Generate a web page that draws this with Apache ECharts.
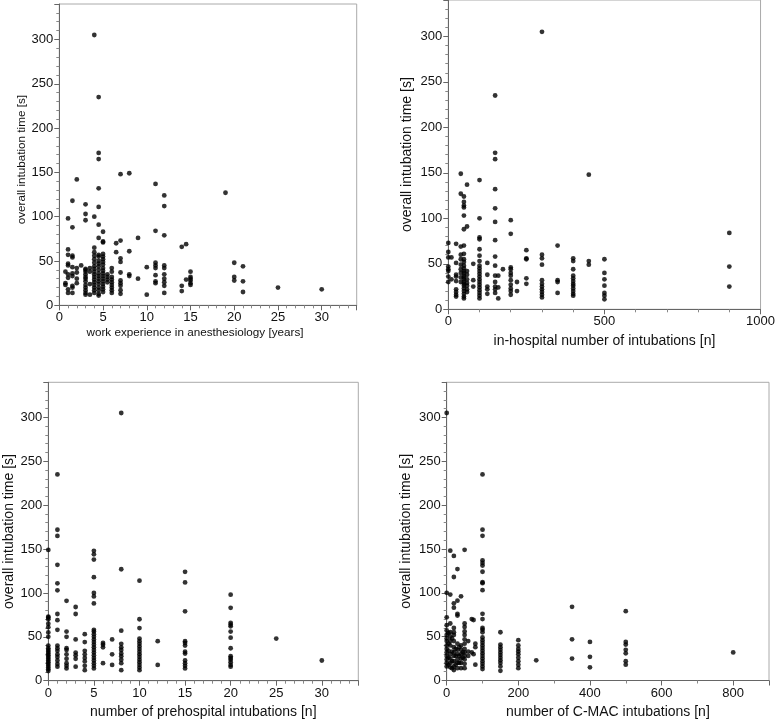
<!DOCTYPE html>
<html>
<head>
<meta charset="utf-8">
<script src="https://cdn.jsdelivr.net/npm/echarts@6/dist/echarts.min.js"></script>
<style>
html,body{margin:0;padding:0;background:#fff;}
#chart{width:778px;height:720px;}
</style>
</head>
<body>
<div id="chart"></div>
<script>
// Panel 1: work experience in anesthesiology [years]
var expLevels = [0.7, 1, 1.5, 2, 2.5, 3, 3.5, 4, 4.5, 5, 5.5, 6, 6.5, 7, 8, 9, 10, 11, 12, 14, 14.5, 15, 19, 20, 21, 25, 30];
var expTimes = [
  [38, 25, 23],
  [98, 63, 57, 47, 45, 35, 31, 18, 14],
  [118, 88, 56, 54, 43, 36, 33, 22, 20, 14],
  [142, 42, 37, 30, 25],
  [45],
  [114, 103, 96, 41, 40, 38, 35, 32, 30, 27, 23, 20, 17, 14, 12],
  [42, 38, 24, 12],
  [305, 100, 65, 60, 56, 52, 48, 44, 41, 38, 35, 32, 29, 26, 23, 20, 17, 14],
  [235, 172, 165, 132, 111, 91, 76, 57, 55, 50, 47, 44, 40, 36, 33, 30, 27, 24, 20, 17, 13, 11],
  [83, 72, 71, 58, 55, 52, 49, 46, 42, 39, 36, 33, 30, 27, 24, 21, 18, 15],
  [35, 32, 29, 26],
  [42, 38, 32, 29, 26, 23, 20, 17, 14],
  [70, 60],
  [148, 73, 53, 49, 37, 28, 25, 22, 17, 13],
  [149, 61, 35, 33],
  [76, 30],
  [43, 12],
  [137, 84, 48, 45, 42, 34, 27, 25],
  [124, 112, 79, 45, 42, 35, 30, 26, 22, 14],
  [66, 22, 16],
  [69, 29],
  [38, 32, 30, 28, 25, 23],
  [127],
  [48, 32, 28],
  [44, 27, 15],
  [20],
  [18]
];

// Panel 2: in-hospital number of intubations [n]
var hospLevels = [0, 10, 25, 40, 50, 60, 80, 100, 125, 150, 160, 175, 200, 220, 250, 300, 350, 400, 450, 500, 900];
var hospTimes = [
  [73, 63, 57, 47, 44, 42, 36, 30],
  [57, 33],
  [72, 51, 38, 36, 31, 22, 19, 16, 14],
  [149, 127, 69, 60, 55, 49, 44, 40, 35, 30],
  [124, 118, 114, 112, 103, 88, 70, 61, 55, 52, 48, 45, 42, 40, 37, 35, 33, 30, 28, 26, 23, 20, 17, 14, 12],
  [137, 91, 42, 38, 33, 29, 26, 22, 19],
  [50, 32, 25],
  [142, 100, 79, 77, 66, 59, 53, 48, 45, 42, 39, 36, 33, 30, 27, 24, 21, 18, 15, 12],
  [51, 38, 25, 22, 17],
  [235, 172, 165, 132, 111, 96, 76, 58, 48, 37, 30, 25, 22, 18],
  [37, 24, 12],
  [44],
  [98, 83, 46, 44, 40, 37, 32, 27, 23, 20, 16],
  [30, 20],
  [65, 56, 55, 34, 28],
  [305, 60, 56, 49, 32, 28, 25, 22, 19, 16, 13],
  [70, 32, 30, 18],
  [56, 53, 44, 37, 34, 31, 28, 26, 23, 20, 17, 15],
  [148, 53, 49],
  [55, 40, 33, 26, 18, 15, 11],
  [84, 47, 25]
];

// Panel 3: number of prehospital intubations [n]
var preLevels = [0, 1, 2, 3, 4, 5, 6, 7, 8, 10, 12, 15, 20, 25, 30];
var preTimes = [
  [149, 73, 72, 70, 65, 61, 55, 50, 40, 37, 35, 33, 31, 29, 27, 25, 23, 21, 19, 17, 15, 13, 11],
  [235, 172, 165, 132, 111, 103, 76, 69, 58, 40, 37, 34, 30, 27, 23, 19, 16],
  [91, 56, 50, 37, 35, 30, 25, 20, 17, 14],
  [84, 76, 47, 32, 29, 25, 16],
  [53, 44, 34, 30, 26, 22, 17, 12],
  [148, 144, 138, 118, 100, 96, 88, 58, 56, 53, 50, 47, 44, 41, 38, 35, 32, 29, 26, 23, 20, 17, 14],
  [43, 41, 38, 20],
  [47, 30, 18],
  [305, 127, 57, 42, 38, 35, 31, 28, 24, 20, 12],
  [114, 70, 60, 48, 45, 42, 39, 36, 33, 30, 27, 24, 21, 18, 15, 12],
  [45, 18],
  [124, 112, 79, 45, 43, 40, 33, 31, 23, 20, 17, 14],
  [98, 83, 66, 64, 62, 56, 49, 37, 28, 26, 24, 21, 18, 16],
  [48],
  [23]
];

// Panel 4: number of C-MAC intubations [n]
var cmacLevels = [0, 5, 10, 15, 20, 25, 30, 35, 40, 45, 50, 60, 70, 75, 80, 100, 150, 200, 250, 350, 400, 500, 800];
var cmacTimes = [
  [305, 100, 72, 63, 57, 52, 48, 45, 40, 36, 32, 28, 24, 20, 16],
  [54, 42, 34, 26, 18],
  [148, 98, 65, 55, 50, 45, 40, 30, 25, 20, 15],
  [48, 33, 22, 14],
  [142, 118, 88, 83, 60, 55, 52, 45, 38, 32, 28, 22, 16, 12],
  [36, 28, 18],
  [127, 91, 76, 74, 42, 35, 30, 24, 20, 14],
  [38, 28, 20],
  [96, 40, 35, 30, 25, 20, 14],
  [32, 26],
  [149, 65, 61, 56, 52, 47, 42, 36, 32, 28, 24, 19, 14],
  [45, 33, 28],
  [70, 32],
  [69, 30],
  [42, 38, 18],
  [235, 172, 165, 137, 134, 131, 124, 112, 111, 103, 76, 70, 60, 58, 55, 49, 46, 43, 40, 37, 34, 31, 28, 25, 22, 19, 16, 13],
  [55, 41, 38, 35, 32, 29, 26, 23, 20, 16, 11],
  [46, 40, 36, 33, 30, 26, 22, 18, 14],
  [23],
  [84, 47, 25],
  [44, 27, 15],
  [79, 44, 41, 35, 31, 22, 18],
  [32]
];

var xNames = [
  'work experience in anesthesiology [years]',
  'in-hospital number of intubations [n]',
  'number of prehospital intubations [n]',
  'number of C-MAC intubations [n]'
];
var yName = 'overall intubation time [s]';

function pairs(levels, times) {
  var out = [];
  levels.forEach(function (lv, i) {
    times[i].forEach(function (t) { out.push([lv, t]); });
  });
  return out;
}

var panelData = [
  pairs(expLevels, expTimes),
  pairs(hospLevels, hospTimes),
  pairs(preLevels, preTimes),
  pairs(cmacLevels, cmacTimes)
];

var FONT = 'Liberation Sans, Arial, Helvetica, sans-serif';

var grids = [
  { left: 59.3, top: 4, width: 297.4, height: 301.3 },
  { left: 448.3, top: 0, width: 315, height: 309.3 },
  { left: 48.3, top: 382.3, width: 310, height: 298.4 },
  { left: 446.7, top: 382.3, width: 322.3, height: 298.7 }
];
var xCfg = [
  { max: 34, interval: 5, minor: 5, gap: 21, nameSize: 11.7, namePad: [0, 26, 0, 0], showMax: false },
  { max: 1000, interval: 500, minor: 5, gap: 24.5, nameSize: 14, namePad: 0, showMax: true },
  { max: 34, interval: 5, minor: 5, gap: 24, nameSize: 14, namePad: 0, showMax: false },
  { max: 900, interval: 200, minor: 2, gap: 24.5, nameSize: 14, namePad: 0, showMax: false }
];
var yCfg = [
  { gap: 32, nameSize: 11.7, namePad: [0, 10, 0, 0] },
  { gap: 34, nameSize: 14, namePad: 0 },
  { gap: 32.5, nameSize: 14, namePad: 0 },
  { gap: 34, nameSize: 14, namePad: 0 }
];

var axisLineStyle = { color: '#666', width: 1 };
var option = {
  backgroundColor: '#fff',
  animation: false,
  grid: grids.map(function (g) {
    return Object.assign({ show: true, borderColor: '#aaa', borderWidth: 1, backgroundColor: '#fff' }, g);
  }),
  xAxis: xCfg.map(function (c, i) {
    return {
      type: 'value', gridIndex: i, min: 0, max: c.max, interval: c.interval,
      name: xNames[i], nameLocation: 'middle', nameGap: c.gap,
      nameTextStyle: { fontFamily: FONT, fontSize: c.nameSize, color: '#111', padding: c.namePad },
      axisLine: { show: true, onZero: false, lineStyle: axisLineStyle },
      axisTick: { show: true, inside: false, length: 5, lineStyle: { color: '#666' } },
      minorTick: { show: true, splitNumber: c.minor, length: 3, lineStyle: { color: '#888' } },
      splitLine: { show: false },
      axisLabel: {
        fontFamily: FONT, fontSize: 13, color: '#111', margin: 6, showMaxLabel: c.showMax,
        formatter: function (v) { return String(v); }
      }
    };
  }),
  yAxis: yCfg.map(function (c, i) {
    return {
      type: 'value', gridIndex: i, min: 0, max: 340, interval: 50,
      name: yName, nameLocation: 'middle', nameGap: c.gap, nameRotate: 90,
      nameTextStyle: { fontFamily: FONT, fontSize: c.nameSize, color: '#111', padding: c.namePad },
      axisLine: { show: true, onZero: false, lineStyle: axisLineStyle },
      axisTick: { show: true, inside: false, length: 5, lineStyle: { color: '#666' } },
      minorTick: { show: true, splitNumber: 5, length: 3, lineStyle: { color: '#888' } },
      splitLine: { show: false },
      axisLabel: {
        fontFamily: FONT, fontSize: 13, color: '#111', margin: 6, showMaxLabel: false,
        formatter: function (v) { return String(v); }
      }
    };
  }),
  series: panelData.map(function (d, i) {
    return {
      type: 'scatter', xAxisIndex: i, yAxisIndex: i, data: d,
      symbol: 'circle', symbolSize: 4.8,
      itemStyle: { color: '#000' }
    };
  })
};

var chart = echarts.init(document.getElementById('chart'), null, { renderer: 'canvas' });
chart.setOption(option);
</script>
</body>
</html>
